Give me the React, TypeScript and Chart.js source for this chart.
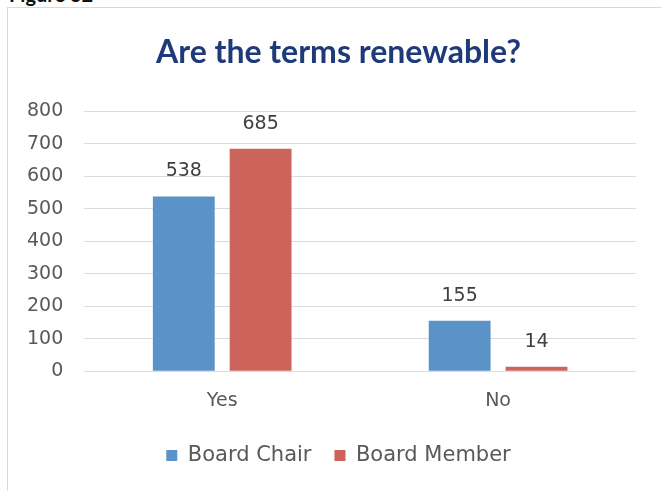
import React, { useEffect, useRef } from "react";
import { Chart, registerables } from "chart.js";

Chart.register(...registerables);

const categories = ["Yes", "No"];
const boardChair = [538, 155];
const boardMember = [685, 14];
const seriesNames = ["Board Chair", "Board Member"];
const yTicks = [0, 100, 200, 300, 400, 500, 600, 700, 800];

const valueLabels = {
  id: "valueLabels",
  afterDatasetsDraw(chart: any) {
    const ctx = chart.ctx;
    ctx.save();
    ctx.font = "19px 'DejaVu Sans'";
    ctx.fillStyle = "#404040";
    ctx.textAlign = "center";
    ctx.textBaseline = "middle";
    chart.data.datasets.forEach((ds: any, i: number) => {
      const meta = chart.getDatasetMeta(i);
      meta.data.forEach((bar: any, j: number) => {
        ctx.fillText(String(ds.data[j]), bar.x, bar.y - 25);
      });
    });
    ctx.restore();
  },
};

export default function App() {
  const ref = useRef<HTMLCanvasElement | null>(null);
  useEffect(() => {
    if (!ref.current) return;
    const chart = new Chart(ref.current, {
      type: "bar",
      data: {
        labels: categories,
        datasets: [
          {
            label: seriesNames[0],
            data: boardChair,
            backgroundColor: "#5B93C9",
            categoryPercentage: 0.557,
            barPercentage: 0.805,
          },
          {
            label: seriesNames[1],
            data: boardMember,
            backgroundColor: "#CC645C",
            categoryPercentage: 0.557,
            barPercentage: 0.805,
          },
        ],
      },
      options: {
        animation: false,
        responsive: false,
        maintainAspectRatio: false,
        layout: { padding: { left: 6, right: -10, top: 0, bottom: 15 } },
        plugins: {
          title: {
            display: true,
            text: "Are the terms renewable?",
            color: "#1E3A78",
            font: { family: "Lato", weight: "bold", size: 32 },
            padding: { top: 33, bottom: 40 },
          },
          legend: {
            display: true,
            position: "bottom",
            labels: {
              boxWidth: 11,
              boxHeight: 11,
              color: "#595959",
              font: { family: "DejaVu Sans", size: 21 },
              padding: 23,
            },
          },
          tooltip: { enabled: false },
        },
        scales: {
          x: {
            grid: { display: false },
            border: { display: false },
            ticks: {
              color: "#595959",
              font: { family: "DejaVu Sans", size: 19 },
              padding: 10,
            },
          },
          y: {
            min: 0,
            max: 800,
            afterBuildTicks: (axis: any) => {
              axis.ticks = yTicks.map((v) => ({ value: v }));
            },
            grid: { color: "#dcdcdc", lineWidth: 1, drawTicks: false },
            border: { display: false },
            ticks: {
              color: "#595959",
              font: { family: "DejaVu Sans", size: 19 },
              padding: 21,
            },
          },
          yRightSpace: {
            type: "linear",
            position: "right",
            display: true,
            grid: { display: false },
            border: { display: false },
            ticks: { display: false },
            afterFit: (axis: any) => {
              axis.width = 35;
            },
          },
        },
      },
      plugins: [valueLabels],
    });
    return () => chart.destroy();
  }, []);

  return (
    <div style={{ position: "fixed", left: 0, top: 0, width: 661, height: 491, overflow: "hidden", background: "#fff" }}>
      <span
        style={{
          position: "absolute",
          left: 9,
          top: -16,
          fontFamily: "Lato",
          fontWeight: "bold",
          fontSize: 20,
          lineHeight: "20px",
          color: "#111",
        }}
      >
        Figure 32
      </span>
      <div
        style={{
          position: "absolute",
          left: 7,
          top: 7,
          width: 700,
          height: 600,
          border: "1px solid #d9d9d9",
          boxSizing: "border-box",
        }}
      />
      <canvas ref={ref} width={661} height={491} style={{ position: "absolute", left: 0, top: 0 }} />
    </div>
  );
}
